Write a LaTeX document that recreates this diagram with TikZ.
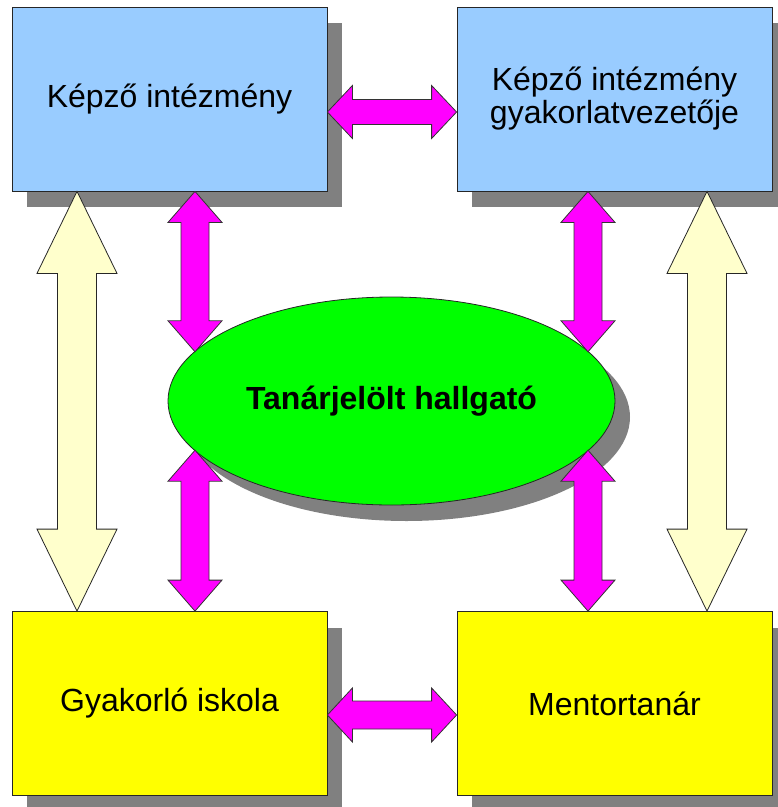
\documentclass[tikz,border=0pt]{standalone}
\usepackage{fontspec}
\setmainfont{Liberation Sans}
\usetikzlibrary{shapes.geometric,shadows,calc}

\definecolor{boxblue}{HTML}{99CCFF}
\definecolor{boxyellow}{HTML}{FFFF00}
\definecolor{ellgreen}{HTML}{00FF00}
\definecolor{arrowpink}{HTML}{FF00FF}
\definecolor{arrowcream}{HTML}{FFFFCC}
\definecolor{shadowgray}{HTML}{808080}

% block arrow with two heads: style, from, to, half shaft, half head, head length
\newcommand\blockarrow[6]{%
  \path[#1] let \p1=(#2), \p2=(#3), \n1={atan2(\y2-\y1,\x2-\x1)} in
    (\p1) -- ($(\p1)+(\n1:#6)+(\n1+90:#5)$)
          -- ($(\p1)+(\n1:#6)+(\n1+90:#4)$)
          -- ($(\p2)-(\n1:#6)+(\n1+90:#4)$)
          -- ($(\p2)-(\n1:#6)+(\n1+90:#5)$)
          -- (\p2)
          -- ($(\p2)-(\n1:#6)-(\n1+90:#5)$)
          -- ($(\p2)-(\n1:#6)-(\n1+90:#4)$)
          -- ($(\p1)+(\n1:#6)-(\n1+90:#4)$)
          -- ($(\p1)+(\n1:#6)-(\n1+90:#5)$)
          -- cycle;}

\begin{document}
\begin{tikzpicture}[x=1pt,y=-1pt,
    shade/.style={drop shadow={shadow xshift=15pt, shadow yshift=-16pt, fill=shadowgray, opacity=1}},
    box/.style={draw=black!85, line width=0.8pt, rectangle, shade, minimum width=315pt,
      minimum height=184pt, inner sep=0pt, align=center, font=\fontsize{32}{33}\selectfont},
    pink/.style={fill=arrowpink, draw=black!80, line width=0.8pt},
    cream/.style={fill=arrowcream, draw=black!85, line width=0.8pt}]

    \useasboundingbox (0,0) rectangle (778,807);

    % Boxes
    \node [box, fill=boxblue]   (ki) at (169.5, 99)    {Képző intézmény};
    \node [box, fill=boxblue]   (kg) at (614.5, 99)    {Képző intézmény\\gyakorlatvezetője};
    \node [box, fill=boxyellow] (gy) at (169.5, 703.5) {Gyakorló iskola};
    \node [box, fill=boxyellow] (mt) at (614.5, 703.5) {Mentortanár};

    % Student
    \node [ellipse, draw=black!85, line width=0.8pt, fill=ellgreen, shade, inner sep=0pt,
      minimum width=447pt, minimum height=208pt,
      font=\fontsize{32}{33}\selectfont\bfseries] (th) at (391.5, 401) {Tanárjelölt hallgató};

    % Arrow ends
    \coordinate (kiA) at ([xshift=25.5pt]ki.south);
    \coordinate (kgA) at ([xshift=-26.5pt]kg.south);
    \coordinate (gyA) at ([xshift=25.5pt]gy.north);
    \coordinate (mtA) at ([xshift=-26.5pt]mt.north);
    \coordinate (thKI) at (th.166 -| kiA);
    \coordinate (thKG) at (th.14 -| kgA);
    \coordinate (thGY) at (th.194 -| gyA);
    \coordinate (thMT) at (th.346 -| mtA);

    % Arrows to the student
    \foreach \a/\b in {kiA/thKI, kgA/thKG, thGY/gyA, thMT/mtA} {
      \blockarrow{pink}{\a}{\b}{14pt}{27pt}{31pt}
    }

    % Arrows between the boxes
    \blockarrow{pink}{[yshift=-13pt]ki.east}{[yshift=-13pt]kg.west}{12.5pt}{26.5pt}{25pt}
    \blockarrow{pink}{[yshift=-11.5pt]gy.east}{[yshift=-11.5pt]mt.west}{14pt}{27pt}{25pt}
    \blockarrow{cream}{[xshift=-92.5pt]ki.south}{[xshift=-92.5pt]gy.north}{19.5pt}{40pt}{82pt}
    \blockarrow{cream}{[xshift=92.5pt]kg.south}{[xshift=92.5pt]mt.north}{19.5pt}{40pt}{82pt}

  \end{tikzpicture}
\end{document}
